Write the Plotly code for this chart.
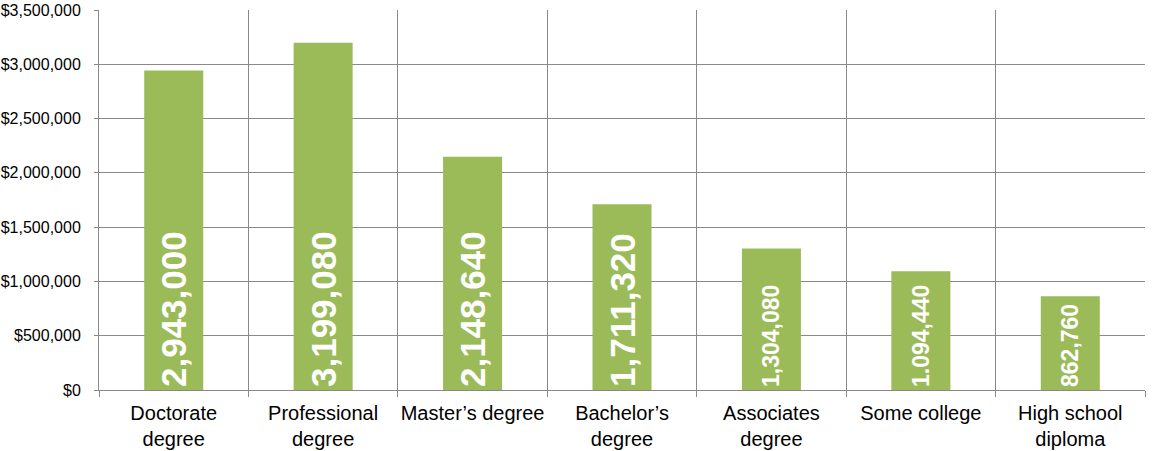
import plotly.graph_objects as go

categories = ["Doctorate<br>degree", "Professional<br>degree", "Master’s degree",
              "Bachelor’s<br>degree", "Associates<br>degree", "Some college",
              "High school<br>diploma"]
values = [2943000, 3199080, 2148640, 1711320, 1304080, 1094440, 862760]
labels = ["2,943,000", "3,199,080", "2,148,640", "1,711,320", "1,304,080", "1.094,440", "862,760"]
label_sizes = [35, 35, 35, 35, 23, 23, 23]
y_ticks = [0, 500000, 1000000, 1500000, 2000000, 2500000, 3000000, 3500000]

fig = go.Figure(go.Bar(
    x=categories, y=values, text=labels,
    textposition="inside", insidetextanchor="start", textangle=-90,
    textfont=dict(family="Liberation Sans, Arial", size=label_sizes, color="white",
                  weight="bold"),
    marker=dict(color="#9BBB59", line=dict(width=0)),
    width=0.395, cliponaxis=False,
))

fig.update_layout(
    width=1153, height=451,
    margin=dict(l=99, r=8, t=10, b=61),
    paper_bgcolor="white", plot_bgcolor="white",
    font=dict(family="Liberation Sans, Arial", color="black"),
    showlegend=False,
    xaxis=dict(
        automargin=False, tickangle=0,
        tickson="boundaries", showgrid=True, gridcolor="#898989", gridwidth=1,
        ticks="outside", ticklen=6, tickcolor="#898989",
        showline=True, linecolor="#898989", mirror=False,
        ticklabelstandoff=5,
        tickfont=dict(size=20, color="black"),
    ),
    yaxis=dict(
        automargin=False,
        range=[0, 3500000], tickvals=y_ticks, tickformat="$,.0f",
        showgrid=True, gridcolor="#898989", gridwidth=1,
        ticks="outside", ticklen=4, tickcolor="#898989",
        showline=True, linecolor="#898989", zeroline=False,
        ticklabelstandoff=10,
        tickfont=dict(size=16, color="black"),
    ),
)

fig.write_html("out.html", config={"displayModeBar": False},
               post_script="document.body.style.margin='0';document.body.style.overflow='hidden';")
